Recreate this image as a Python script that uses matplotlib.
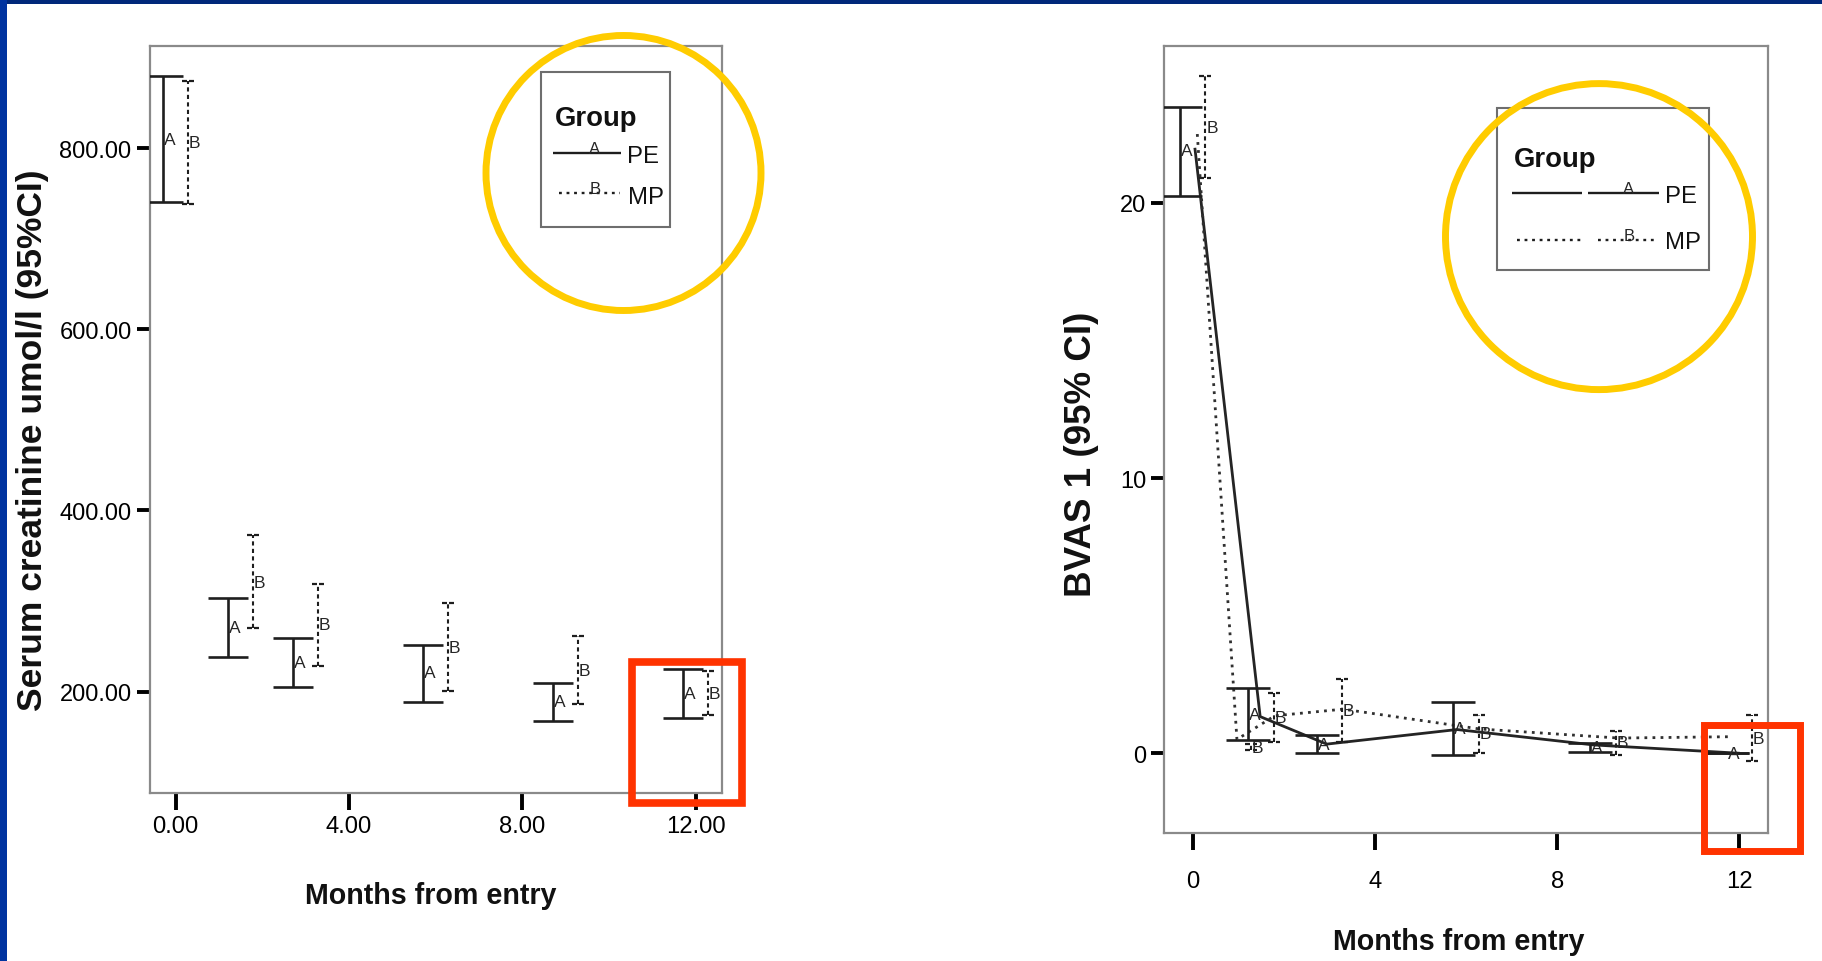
import numpy as np
import matplotlib
matplotlib.use("Agg")
import matplotlib.pyplot as plt
from matplotlib import font_manager as fm
from matplotlib.patches import Rectangle, Ellipse
from matplotlib.path import Path

# ---------------- data ----------------
group_names = ["PE", "MP"]
group_letters = ["A", "B"]
legend_title = "Group"
x_title = "Months from entry"

# Left panel: serum creatinine (umol/l), mean and 95% CI
cr_months = [0, 1.5, 3, 6, 9, 12]
cr_pe_mean = [810, 271, 232, 221, 189, 198]
cr_pe_lo = [741, 238, 205, 189, 168, 171]
cr_pe_hi = [880, 303, 259, 252, 210, 225]
cr_mp_mean = [806, 321, 274, 249, 223, 198]
cr_mp_lo = [739, 270, 228, 201, 186, 174]
cr_mp_hi = [874, 373, 319, 298, 261, 223]
cr_xticks = [0, 4, 8, 12]
cr_yticks = [200, 400, 600, 800]
cr_ylabel = "Serum creatinine umol/l (95%CI)"

# Right panel: BVAS 1, mean and 95% CI
bv_pe_months = [0, 1.5, 3, 6, 9, 12]
bv_pe_mean = [21.9, 1.4, 0.33, 0.88, 0.2, 0.0]
bv_pe_lo = [20.25, 0.47, 0.0, -0.08, 0.03, 0.0]
bv_pe_hi = [23.5, 2.38, 0.66, 1.85, 0.37, 0.0]
bv_mp_months = [0, 1, 1.5, 3, 6, 9, 12]
bv_mp_mean = [22.75, 0.2, 1.3, 1.55, 0.7, 0.38, 0.55]
bv_mp_lo = [20.9, 0.1, 0.4, 0.4, 0.0, -0.05, -0.3]
bv_mp_hi = [24.6, 0.35, 2.2, 2.68, 1.4, 0.8, 1.4]
# trend lines as drawn (vertex positions)
bv_pe_line_x = [0.05, 1.48, 2.94, 5.8, 8.8, 11.98]
bv_pe_line_y = [21.95, 1.33, 0.33, 0.86, 0.3, 0.0]
bv_mp_line_x = [0.1, 0.97, 1.8, 3.3, 6.3, 9.35, 11.85]
bv_mp_line_y = [22.5, 0.5, 1.36, 1.6, 0.88, 0.55, 0.6]
bv_xticks = [0, 4, 8, 12]
bv_yticks = [0, 10, 20]
bv_ylabel = "BVAS 1 (95% CI)"

# ---------------- style ----------------
INK = "#1e1e1e"
FRAME = "#8a8a8a"
DODGE = 0.28
avail = {f.name for f in fm.fontManager.ttflist}
HAS_NARROW = "Liberation Sans Narrow" in avail
SANS = "Liberation Sans" if "Liberation Sans" in avail else "DejaVu Sans"


def nfont(size, weight="normal"):
    if HAS_NARROW:
        return dict(family="Liberation Sans Narrow", size=size, weight=weight)
    return dict(family=SANS, size=size * 0.86, weight=weight)


def rfont(size, weight="normal"):
    return dict(family=SANS, size=size, weight=weight)


CAP_MARKER = Path([(-0.5, 0), (-0.12, 0), (0.12, 0), (0.5, 0)],
                  [Path.MOVETO, Path.LINETO, Path.MOVETO, Path.LINETO])


def draw_group(ax, months, mean, lo, hi, offset, solid, letter, capsize):
    x = np.asarray(months, float) + offset
    m = np.asarray(mean, float)
    l = np.asarray(lo, float)
    h = np.asarray(hi, float)
    yerr = [m - l, h - m]
    if solid:
        ax.errorbar(x, m, yerr=yerr, fmt="none", ecolor=INK, elinewidth=1.9,
                    capsize=capsize, capthick=1.9, zorder=3)
    else:
        eb = ax.errorbar(x, m, yerr=yerr, fmt="none", ecolor=INK,
                         elinewidth=1.5, capsize=0, zorder=3)
        eb.lines[2][0].set_linestyle((0, (2.0, 1.6)))
        for yy in (l, h):
            ax.plot(x, yy, ls="none", marker=CAP_MARKER, ms=capsize,
                    mec=INK, mew=1.6, mfc="none", zorder=3)
    for xi, mi in zip(x, m):
        ax.annotate(letter, (xi, mi), xytext=(4.8, 0), textcoords="offset points",
                    ha="center", va="center", color="#262626", zorder=4,
                    **rfont(12.5))


def style_axes(ax, xlim, ylim, xticks, xlabels, yticks, ylabels, xpad):
    ax.set_xlim(*xlim)
    ax.set_ylim(*ylim)
    for s in ax.spines.values():
        s.set_color(FRAME)
        s.set_linewidth(1.6)
    ax.set_xticks(xticks, xlabels, **nfont(20))
    ax.set_yticks(yticks, ylabels, **rfont(17))
    ax.tick_params(axis="x", direction="out", length=12, width=2.8,
                   color="black", pad=xpad)
    ax.tick_params(axis="y", direction="out", length=9.5, width=2.8,
                   color="black", pad=3.8)


def draw_legend(ax, box, title_pos, rows):
    ax.add_patch(Rectangle((box[0], box[1]), box[2] - box[0], box[3] - box[1],
                           transform=ax.transAxes, fill=False, ec="#6e6e6e",
                           lw=1.5, zorder=5))
    ax.text(title_pos[0], title_pos[1], legend_title, transform=ax.transAxes,
            ha="left", va="baseline", color="#111111", zorder=6,
            **nfont(23, "bold"))
    for segs, y, ls, lx, letter, tx, ty, label in rows:
        for (x0, x1) in segs:
            ax.plot([x0, x1], [y, y], transform=ax.transAxes, color=INK,
                    lw=1.7, ls=ls, zorder=6, solid_capstyle="butt")
        ax.text(lx, y, letter, transform=ax.transAxes, ha="center",
                va="baseline", color="#262626", zorder=6, **rfont(12))
        ax.text(tx, ty, label, transform=ax.transAxes, ha="left",
                va="center", color="#111111", zorder=6, **nfont(20))


fig = plt.figure(figsize=(18.22, 9.62), dpi=100, facecolor="white")

# ---------------- left panel ----------------
ax1 = fig.add_axes([0.08233, 0.17464, 0.31394, 0.77651])
draw_group(ax1, cr_months, cr_pe_mean, cr_pe_lo, cr_pe_hi, -DODGE, True,
           group_letters[0], 14.4)
draw_group(ax1, cr_months, cr_mp_mean, cr_mp_lo, cr_mp_hi, DODGE, False,
           group_letters[1], 8.6)
style_axes(ax1, (-0.59, 12.61), (88, 913), cr_xticks,
           ["%.2f" % v for v in cr_xticks], cr_yticks,
           ["%.2f" % v for v in cr_yticks], 3.5)
ax1.set_xlabel(x_title, color="#111111", **nfont(24, "bold"))
ax1.xaxis.set_label_coords(0.49, -0.1178)
ax1.set_ylabel(cr_ylabel, color="#111111", **rfont(25.5, "bold"))
ax1.yaxis.set_label_coords(-0.1766, 0.474)
draw_legend(ax1, (0.6836, 0.7577, 0.9091, 0.9652), (0.708, 0.8942), [
    ([(0.7045, 0.8234)], 0.8568, "-", 0.778, group_letters[0], 0.834, 0.853, group_names[0]),
    ([(0.7150, 0.8217)], 0.8028, (0, (1.2, 2.0)), 0.778, group_letters[1], 0.8357, 0.7985, group_names[1]),
])

# ---------------- right panel ----------------
ax2 = fig.add_axes([0.63913, 0.13306, 0.33106, 0.81809])
ax2.plot(bv_pe_line_x, bv_pe_line_y, color="#242424", lw=2.0, zorder=2,
         solid_joinstyle="round")
ax2.plot(bv_mp_line_x, bv_mp_line_y, color="#303030", lw=2.0,
         ls=(0, (1.0, 1.9)), zorder=2)
draw_group(ax2, bv_pe_months, bv_pe_mean, bv_pe_lo, bv_pe_hi, -DODGE, True,
           group_letters[0], 16.0)
draw_group(ax2, bv_mp_months, bv_mp_mean, bv_mp_lo, bv_mp_hi, DODGE, False,
           group_letters[1], 9.0)
style_axes(ax2, (-0.62, 12.62), (-2.9, 25.7), bv_xticks,
           [str(v) for v in bv_xticks], bv_yticks,
           [str(v) for v in bv_yticks], 15)
ax2.set_xlabel(x_title, color="#111111", **nfont(24, "bold"))
ax2.xaxis.set_label_coords(0.488, -0.119)
ax2.set_ylabel(bv_ylabel, color="#111111", **rfont(26.5, "bold"))
ax2.yaxis.set_label_coords(-0.1086, 0.483)
draw_legend(ax2, (0.5512, 0.7154, 0.9027, 0.9212), (0.5794, 0.8475), [
    ([(0.5753, 0.6921), (0.7021, 0.8198)], 0.8128, "-", 0.770, group_letters[0], 0.8298, 0.8088, group_names[0]),
    ([(0.5844, 0.6921), (0.7186, 0.8149)], 0.7539, (0, (1.2, 2.0)), 0.770, group_letters[1], 0.8298, 0.7510, group_names[1]),
])

# ---------------- slide decorations ----------------
W, H = 1822, 962
fig.add_artist(Rectangle((0, 1 - 5 / H), 1, 5 / H, transform=fig.transFigure,
                         color="#00287a", lw=0, zorder=10))
fig.add_artist(Rectangle((0, 0), 7 / W, 1, transform=fig.transFigure,
                         color="#0033a0", lw=0, zorder=10))
px = fig.dpi_scale_trans
fig.add_artist(Ellipse((623.5 / 100, (H - 174) / 100), 2.75, 2.75,
                       transform=px, fill=False, ec="#ffcc00", lw=5, zorder=10))
fig.add_artist(Ellipse((1599 / 100, (H - 237.6) / 100), 3.07, 3.06,
                       transform=px, fill=False, ec="#ffcc00", lw=5, zorder=10))
fig.add_artist(Rectangle((632 / 100, (H - 804) / 100), 1.10, 1.41,
                         transform=px, fill=False, ec="#ff3300", lw=5.5,
                         joinstyle="miter", zorder=10))
fig.add_artist(Rectangle((1703.5 / 100, (H - 852) / 100), 0.96, 1.26,
                         transform=px, fill=False, ec="#ff3300", lw=5,
                         joinstyle="miter", zorder=10))

fig.savefig("out.png", dpi=100, facecolor="white")
